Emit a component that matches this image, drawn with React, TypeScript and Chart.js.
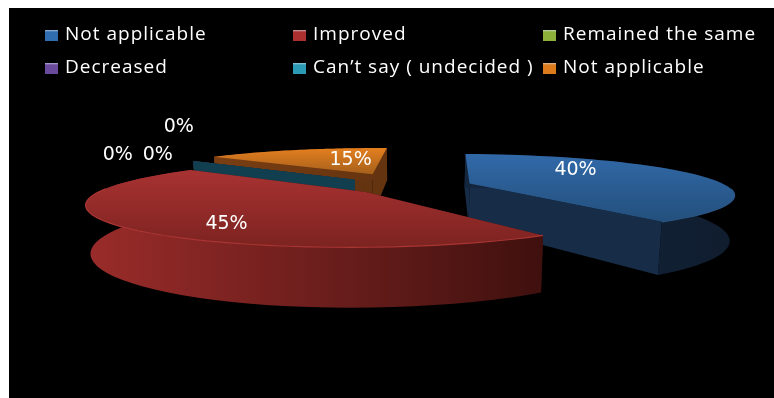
import React, { useEffect, useRef } from "react";
import { Chart, registerables } from "chart.js";

Chart.register(...registerables);

const categories = ["Not applicable", "Improved", "Remained the same", "Decreased", "Can’t say ( undecided )", "Not applicable"];
const shares = [40, 45, 0, 0, 0, 15];
const sliceOffsets = [64, 57, 72, 72, 72, 94];

const swatchColors = ["#2f6cb0", "#ad3030", "#8cb03a", "#6a4a9c", "#2b9ab5", "#dc7a1c"];
const topLight = ["#3169a8", "#a83232", "#8cb03a", "#6a4a9c", "#1c5468", "#e47f1f"];
const topDark = ["#234f7c", "#7c2320", "#6a8a2a", "#4a3470", "#164454", "#a5601b"];
const faceColors = ["#162c47", "#3a0f0d", "#3d5216", "#2f2145", "#123f4f", "#643310"];
const rimStops = [
  ["#14263e", "#101d2f"],
  ["#9a2c2a", "#7c2321", "#5e1a18", "#3f100e"],
  ["#3d5216", "#3d5216"],
  ["#2f2145", "#2f2145"],
  ["#123f4f", "#123f4f"],
  ["#7a3e12", "#643310"],
];
const rimHighlights = ["#2a5685", "#a93534", "", "", "", ""];

// Value label placement, measured from each slice's point
const labelShift = [[106, -13], [-139, 32], [-237, -25], [-197, -25], [-176, -53], [-22, -14]];
const legendColumns = [56, 304, 554];
const legendRows = [27, 60];

// Tilted-plane projection of the pie
const RX = 257;
const RY = 38;
const TILT = 0.25;
const DEPTH = 43;
const BASE_SHRINK = 0.985;

type Pt = { x: number; y: number };

const pie3d = {
  id: "pie3d",
  beforeDatasetsDraw(chart: any) {
    const ctx: CanvasRenderingContext2D = chart.ctx;
    const arcs: any[] = chart.getDatasetMeta(0).data;

    const slices = arcs.map((arc, index) => {
      const mid = (arc.startAngle + arc.endAngle) / 2;
      const du = (arc.options.offset * Math.cos(mid)) / RX;
      const dv = (arc.options.offset * Math.sin(mid)) / RX;
      const project = (u: number, v: number): Pt => {
        const w = 1 - TILT * v;
        return { x: arc.x + (RX * u) / w, y: arc.y + (RY * v) / w };
      };
      const lower = (u: number, v: number): Pt => {
        const p = project(u, v);
        const s = 1 / (1 - TILT * v);
        return { x: arc.x + (p.x - arc.x) * BASE_SHRINK, y: p.y + DEPTH * s };
      };
      const steps = 48;
      const rim: [number, number][] = [];
      for (let i = 0; i <= steps; i++) {
        const a = arc.startAngle + ((arc.endAngle - arc.startAngle) * i) / steps;
        rim.push([Math.cos(a) + du, Math.sin(a) + dv]);
      }
      return { index, mid, du, dv, rim, project, lower, depth: Math.sin(mid) };
    });

    const fillPoly = (pts: Pt[], fill: string | CanvasGradient) => {
      ctx.beginPath();
      pts.forEach((p, i) => (i ? ctx.lineTo(p.x, p.y) : ctx.moveTo(p.x, p.y)));
      ctx.closePath();
      ctx.fillStyle = fill;
      ctx.fill();
    };

    // Paint from the far side of the pie to the near side
    [...slices].sort((a, b) => a.depth - b.depth).forEach((s) => {
      const apexTop = s.project(s.du, s.dv);
      const apexLow = s.lower(s.du, s.dv);
      const rimTop = s.rim.map(([u, v]) => s.project(u, v));
      const rimLow = s.rim.map(([u, v]) => s.lower(u, v));
      const last = rimTop.length - 1;
      const face = faceColors[s.index];

      fillPoly([apexTop, rimTop[0], rimLow[0], apexLow], face);
      fillPoly([apexTop, rimTop[last], rimLow[last], apexLow], face);

      const xs = rimTop.map((p) => p.x);
      const minX = Math.min(...xs);
      const maxX = Math.max(...xs);
      if (maxX > minX) {
        const g = ctx.createLinearGradient(minX, 0, maxX, 0);
        rimStops[s.index].forEach((c, i, all) => g.addColorStop(i / (all.length - 1), c));
        fillPoly([...rimTop, ...[...rimLow].reverse()], g);

        const ys = [apexTop, ...rimTop].map((p) => p.y);
        const t = ctx.createLinearGradient(0, Math.min(...ys), 0, Math.max(...ys));
        t.addColorStop(0, topLight[s.index]);
        t.addColorStop(1, topDark[s.index]);
        fillPoly([apexTop, ...rimTop], t);

        if (rimHighlights[s.index]) {
          ctx.beginPath();
          let pen = false;
          s.rim.forEach(([u, v], i) => {
            if (v <= 0.05) return;
            const p = rimTop[i];
            if (pen) ctx.lineTo(p.x, p.y);
            else ctx.moveTo(p.x, p.y);
            pen = true;
          });
          ctx.strokeStyle = rimHighlights[s.index];
          ctx.lineWidth = 1.2;
          ctx.stroke();
        }
      }
    });

    // Value labels
    ctx.fillStyle = "#ffffff";
    ctx.font = '19px "DejaVu Sans"';
    ctx.textAlign = "center";
    ctx.textBaseline = "middle";
    slices.forEach((s) => {
      const apex = s.project(s.du, s.dv);
      const [dx, dy] = labelShift[s.index];
      ctx.fillText(`${shares[s.index]}%`, apex.x + dx, apex.y + dy);
    });

    // Legend in a three-column grid
    ctx.textAlign = "left";
    ctx.font = '19px "Open Sans"';
    (ctx as any).letterSpacing = "1px";
    categories.forEach((label, i) => {
      const x = legendColumns[i % 3];
      const y = legendRows[Math.floor(i / 3)];
      const g = ctx.createLinearGradient(0, y - 6, 0, y + 6);
      g.addColorStop(0, "#d8e4f0");
      g.addColorStop(0.25, swatchColors[i]);
      g.addColorStop(1, swatchColors[i]);
      ctx.fillStyle = g;
      ctx.fillRect(x - 20, y - 5, 13, 11);
      ctx.fillStyle = "#ffffff";
      ctx.fillText(label, x, y);
    });
    (ctx as any).letterSpacing = "0px";

    return false;
  },
};

export default function App() {
  const ref = useRef<HTMLCanvasElement>(null);
  useEffect(() => {
    const chart = new Chart(ref.current!, {
      type: "pie",
      data: {
        labels: categories,
        datasets: [{ data: shares, backgroundColor: swatchColors, offset: sliceOffsets, borderWidth: 0 }],
      },
      options: {
        animation: false,
        responsive: false,
        rotation: 2.2,
        layout: { padding: { left: 35, bottom: 34 } },
        plugins: { legend: { display: false }, tooltip: { enabled: false } },
      },
      plugins: [pie3d],
    } as any);
    return () => chart.destroy();
  }, []);
  return (
    <canvas
      ref={ref}
      width={765}
      height={390}
      style={{ position: "fixed", left: 9, top: 8, width: 765, height: 390, background: "#000" }}
    />
  );
}
